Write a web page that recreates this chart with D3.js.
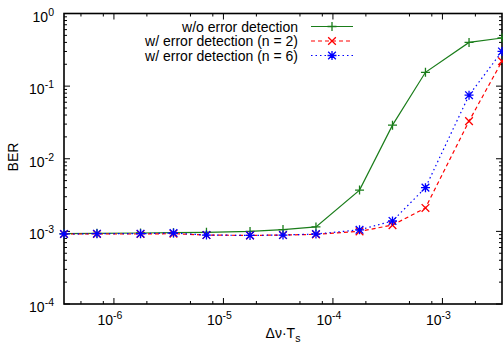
<!DOCTYPE html>
<html>
<head>
<meta charset="utf-8">
<script src="https://cdn.jsdelivr.net/npm/d3@7/dist/d3.min.js"></script>
<style>
	body { margin: 0; background: #fff; }
	svg text { font-family: "Liberation Sans", Arial, sans-serif; fill: #000; }
</style>
</head>
<body>
<div id="chart"></div>
<script>
	'use strict';
	// x values: linewidth * symbol time
	var dvTs = [3.5e-7, 7e-7, 1.75e-6, 3.5e-6, 7e-6, 1.75e-5, 3.5e-5, 7e-5, 1.75e-4, 3.5e-4, 7e-4, 1.75e-3, 3.5e-3];
	var berNoDetect = [0.93e-3, 0.94e-3, 0.95e-3, 0.96e-3, 0.97e-3, 1.0e-3, 1.06e-3, 1.15e-3, 3.7e-3, 0.029, 0.155, 0.40, 0.46];
	var berDetectN2 = [0.92e-3, 0.92e-3, 0.92e-3, 0.93e-3, 0.89e-3, 0.88e-3, 0.89e-3, 0.91e-3, 1.0e-3, 1.22e-3, 2.1e-3, 0.033, 0.22];
	var berDetectN6 = [0.92e-3, 0.93e-3, 0.93e-3, 0.95e-3, 0.89e-3, 0.88e-3, 0.89e-3, 0.92e-3, 1.05e-3, 1.39e-3, 4.0e-3, 0.075, 0.30];
	var seriesNames = ['w/o error detection', 'w/ error detection (n = 2)', 'w/ error detection (n = 6)'];
	var xMajor = [-6, -5, -4, -3];
	var yMajor = [0, -1, -2, -3, -4];

	var W = 503, H = 353;
	var margin = {top: 13.5, right: 1, bottom: 49, left: 64};

	var svg = d3.select('#chart')
		.append('svg')
		.attr('width', W)
		.attr('height', H);

	var x = d3.scaleLog()
		.domain([3.5e-7, 3.5e-3])
		.range([margin.left, W - margin.right]);
	var y = d3.scaleLog()
		.domain([1e-4, 1])
		.range([H - margin.bottom, margin.top]);

	var x0 = x.range()[0], x1 = x.range()[1];
	var y0 = y.range()[0], y1 = y.range()[1];

	// minor ticks
	var xMinor = [], yMinor = [];
	[-7, -6, -5, -4, -3].forEach(function (e) {
		[2, 5, 8].forEach(function (m) {
			var v = m * Math.pow(10, e);
			if (v > 3.5e-7 && v < 3.5e-3) { xMinor.push(v); }
		});
	});
	[-4, -3, -2, -1].forEach(function (e) {
		for (var m = 2; m <= 9; m++) { yMinor.push(m * Math.pow(10, e)); }
	});

	var ticks = svg.append('g').attr('stroke', '#000').attr('stroke-width', 1);
	function xTick(v, len) {
		ticks.append('line').attr('x1', x(v)).attr('x2', x(v)).attr('y1', y0).attr('y2', y0 - len);
		ticks.append('line').attr('x1', x(v)).attr('x2', x(v)).attr('y1', y1).attr('y2', y1 + len);
	}
	function yTick(v, len) {
		ticks.append('line').attr('y1', y(v)).attr('y2', y(v)).attr('x1', x0).attr('x2', x0 + len);
		ticks.append('line').attr('y1', y(v)).attr('y2', y(v)).attr('x1', x1).attr('x2', x1 - len);
	}
	xMinor.forEach(function (v) { xTick(v, 3); });
	xMajor.forEach(function (e) { xTick(Math.pow(10, e), 6); });
	yMinor.forEach(function (v) { yTick(v, 3); });
	yMajor.forEach(function (e) { yTick(Math.pow(10, e), 6); });

	// border
	svg.append('rect')
		.attr('x', x0).attr('y', y1)
		.attr('width', x1 - x0).attr('height', y0 - y1)
		.attr('fill', 'none').attr('stroke', '#000').attr('stroke-width', 1.6);

	// tick labels
	xMajor.forEach(function (e) {
		var t = svg.append('text')
			.attr('x', x(Math.pow(10, e)) - 4)
			.attr('y', y0 + 21)
			.attr('text-anchor', 'middle')
			.style('font-size', '14px');
		t.append('tspan').text('10');
		t.append('tspan').attr('dy', -6).style('font-size', '10.5px').text(String(e).replace('-', '-'));
	});
	yMajor.forEach(function (e) {
		var t = svg.append('text')
			.attr('x', 54)
			.attr('y', y(Math.pow(10, e)) + 8)
			.attr('text-anchor', 'end')
			.style('font-size', '14px');
		t.append('tspan').text('10');
		t.append('tspan').attr('dy', -6).style('font-size', '10.5px').text(String(e));
	});

	// axis titles
	svg.append('text')
		.attr('transform', 'translate(18,157) rotate(-90)')
		.attr('text-anchor', 'middle')
		.style('font-size', '14px')
		.text('BER');
	var xt = svg.append('text')
		.attr('x', (x0 + x1) / 2)
		.attr('y', 338)
		.attr('text-anchor', 'middle')
		.style('font-size', '14px');
	xt.append('tspan').text('\u0394\u03bd\u00b7T');
	xt.append('tspan').attr('dy', 4).style('font-size', '10.5px').text('s');

	// markers
	function marker(g, type, cx, cy, color) {
		var r = 4.5;
		var p = '';
		if (type === 'plus' || type === 'star') {
			p += 'M' + (cx - r) + ',' + cy + 'H' + (cx + r) + 'M' + cx + ',' + (cy - r) + 'V' + (cy + r);
		}
		if (type === 'cross' || type === 'star') {
			var q = r * 0.85;
			p += 'M' + (cx - q) + ',' + (cy - q) + 'L' + (cx + q) + ',' + (cy + q) +
				'M' + (cx - q) + ',' + (cy + q) + 'L' + (cx + q) + ',' + (cy - q);
		}
		g.append('path').attr('d', p).attr('stroke', color).attr('stroke-width', 1.3).attr('fill', 'none');
	}

	var series = [
		{name: seriesNames[0], values: berNoDetect, color: '#1a7d1a', dash: null, mark: 'plus'},
		{name: seriesNames[1], values: berDetectN2, color: '#ff0000', dash: '4,3', mark: 'cross'},
		{name: seriesNames[2], values: berDetectN6, color: '#0000ff', dash: '1.5,3', mark: 'star'}
	];

	var line = d3.line()
		.x(function (d) { return x(d[0]); })
		.y(function (d) { return y(d[1]); });

	series.forEach(function (s, i) {
		var pts = dvTs.map(function (v, k) { return [v, s.values[k]]; });
		var g = svg.append('g');
		g.append('path')
			.datum(pts)
			.attr('d', line)
			.attr('fill', 'none')
			.attr('stroke', s.color)
			.attr('stroke-width', 1.2)
			.attr('stroke-dasharray', s.dash);
		pts.forEach(function (d) {
			marker(g, s.mark, x(d[0]), y(d[1]), s.color);
		});

		// legend entry
		var ly = 26.5 + i * 14.5;
		svg.append('text')
			.attr('x', 298)
			.attr('y', ly + 5)
			.attr('text-anchor', 'end')
			.style('font-size', '14px')
			.text(s.name);
		var lg = svg.append('g');
		lg.append('line')
			.attr('x1', 311).attr('x2', 353)
			.attr('y1', ly).attr('y2', ly)
			.attr('stroke', s.color)
			.attr('stroke-width', 1.2)
			.attr('stroke-dasharray', s.dash);
		marker(lg, s.mark, 332, ly, s.color);
	});
</script>
</body>
</html>
